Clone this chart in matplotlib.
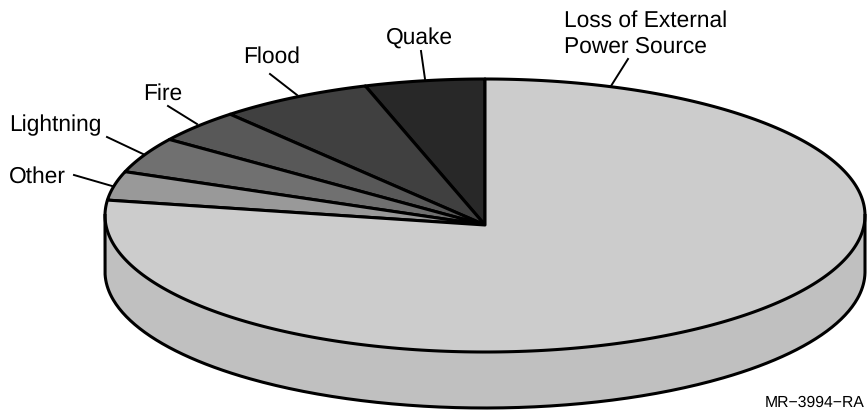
import numpy as np
import matplotlib
matplotlib.use("Agg")
import matplotlib.pyplot as plt

plt.rcParams['font.family'] = ['Liberation Sans', 'DejaVu Sans']
plt.rcParams['text.hinting'] = 'no_hinting'

# -------------------------------
# Data: share of each slice (%), counter-clockwise from 12 o'clock
# -------------------------------
slices = ["Quake", "Flood", "Fire", "Lightning", "Other", "Loss of External\nPower Source"]
shares = [5.1, 6.6, 3.9, 4.2, 3.4, 76.8]
colors = ["#282828", "#404040", "#585858", "#707070", "#999999", "#cccccc"]

# label position (left, centre y), then leader line start and end
label_pos = [(386, 39), (243, 57), (143, 94), (9, 125), (9, 177), (564, 34)]
leaders = [((421, 51), (425, 79)), ((270, 74), (297, 95)), ((168, 106), (197, 124)),
           ((107, 137), (143, 154)), ((74, 175), (112, 186)), ((628, 59), (611, 86))]

# pie geometry, in pixels
cx, cy = 485, 215.5
rx, ry = 380, 136.5
apex = (485, 225)
depth = 56
lw = 2.2

fig = plt.figure(figsize=(8.67, 4.11), dpi=100)
ax = fig.add_axes([0, 0, 1, 1])
ax.set_xlim(0, 867)
ax.set_ylim(411, 0)
ax.axis("off")


def rim(a, b, yc=cy):
    t = np.radians(np.linspace(a, b, 300))
    return cx + rx * np.cos(t), yc - ry * np.sin(t)


# -------------------------------
# Side of the disc
# -------------------------------
xb, yb = rim(180, 360, cy + depth)
xt, yt = rim(360, 180)
ax.fill(np.r_[xb, xt], np.r_[yb, yt], color="#c0c0c0", lw=0)
ax.plot(np.r_[xb[0], xb, xb[-1]], np.r_[cy, yb, cy], color="black", lw=lw)

# -------------------------------
# Top face
# -------------------------------
edges = 90 + np.cumsum([0] + shares) * 3.6
for i in range(len(shares)):
    x, y = rim(edges[i], edges[i + 1])
    ax.fill(np.r_[apex[0], x], np.r_[apex[1], y], facecolor=colors[i],
            edgecolor="black", lw=lw, joinstyle="round")

# -------------------------------
# Labels
# -------------------------------
for name, pos, (p0, p1) in zip(slices, label_pos, leaders):
    ax.text(pos[0], pos[1], name, fontsize=16.4, ha="left", va="center",
            linespacing=1.27, color="black")
    ax.plot([p0[0], p1[0]], [p0[1], p1[1]], color="black", lw=1.4)

ax.text(865, 403, "MR\u22123994\u2212RA", fontsize=11.3, ha="right", va="center")

fig.savefig("out.png", dpi=100)
